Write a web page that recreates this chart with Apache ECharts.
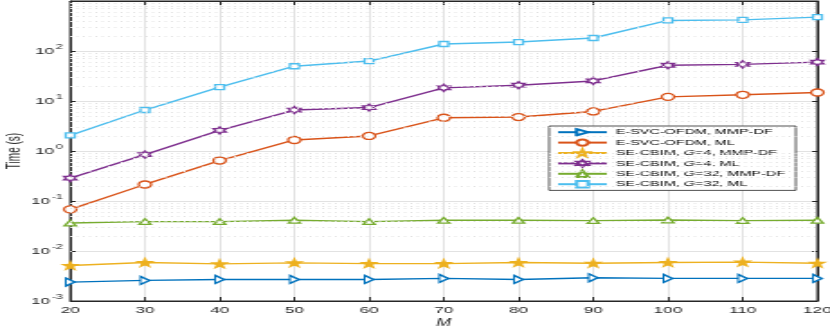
<!DOCTYPE html>
<html lang="en">
<head>
    <meta charset="UTF-8">
    <title>Time vs M</title>
    <script type="text/javascript" src="https://cdn.jsdelivr.net/npm/echarts@6/dist/echarts.min.js"></script>
    <style>
        body { margin: 0; overflow: hidden; background: #fff; }
        /* the reference is stretched sideways, so draw narrow and stretch */
        #chart { width: 461px; height: 327px; transform: scaleX(1.8004); transform-origin: 0 0; }
    </style>
</head>
<body>
    <div id="chart"></div>
    <script>
        var mValues = [20, 30, 40, 50, 60, 70, 80, 90, 100, 110, 120];
        var esvcMmp = [0.00239, 0.00258, 0.0027, 0.0027, 0.0027, 0.00283, 0.0027, 0.00291, 0.00283, 0.00283, 0.00283];
        var esvcMl = [0.068, 0.214, 0.644, 1.66, 2.0, 4.62, 4.78, 6.18, 12.1, 13.3, 14.8];
        var g4Mmp = [0.00514, 0.0059, 0.00553, 0.0058, 0.0056, 0.0056, 0.0059, 0.0057, 0.0059, 0.006, 0.0057];
        var g4Ml = [0.286, 0.847, 2.58, 6.59, 7.4, 18.3, 20.7, 25.2, 51.9, 54, 60];
        var g32Mmp = [0.0363, 0.0387, 0.0387, 0.0411, 0.0387, 0.0411, 0.0411, 0.0405, 0.0417, 0.0405, 0.0411];
        var g32Ml = [2.06, 6.6, 18.9, 49.6, 63, 138, 151, 182, 408, 420, 476];
        var yTicks = [0.001, 0.01, 0.1, 1, 10, 100];
        var seriesNames = ['E-SVC-OFDM, MMP-DF', 'E-SVC-OFDM, ML', 'SE-CBIM, G=4, MMP-DF',
            'SE-CBIM, G=4, ML', 'SE-CBIM, G=32, MMP-DF', 'SE-CBIM, G=32, ML'];

        var font = "'Liberation Sans', Arial, sans-serif";
        var axisColor = '#262626';
        var star = 'path://M50,0 L61,35 L98,35 L68,57 L79,91 L50,70 L21,91 L32,57 L2,35 L39,35 Z';
        var hexagram = 'path://M50,0 L63,25 L93,25 L78,50 L93,75 L63,75 L50,100 L37,75 L7,75 L22,50 L7,25 L37,25 Z';

        function pairs(vals) {
            var out = [];
            for (var i = 0; i < mValues.length; i++) out.push([mValues[i], vals[i]]);
            return out;
        }

        // dotted minor grid at 2..9 of each decade
        var minorLines = [];
        for (var k = 0; k < yTicks.length; k++)
            for (var m = 2; m <= 9; m++) minorLines.push({ yAxis: m * yTicks[k] });

        function lineSeries(name, vals, color, symbol, size, rotate, filled) {
            return {
                name: name,
                type: 'line',
                data: pairs(vals),
                symbol: symbol,
                symbolSize: size,
                symbolRotate: rotate,
                showAllSymbol: true,
                z: 3,
                lineStyle: { color: color, width: 1.4 },
                itemStyle: { color: filled ? color : '#fff', borderColor: color, borderWidth: 1.3 },
                emphasis: { disabled: true },
                animation: false
            };
        }

        var chart = echarts.init(document.getElementById('chart'));
        var option = {
            animation: false,
            grid: { left: 39, right: 7, top: 1, bottom: 26, outerBoundsMode: 'none',
                show: true, borderColor: axisColor, borderWidth: 1 },
            legend: {
                data: seriesNames,
                orient: 'vertical',
                left: 305,
                top: 126,
                backgroundColor: '#fff',
                borderColor: axisColor,
                borderWidth: 0.8,
                padding: [2, 6, 2, 4],
                itemWidth: 27,
                itemHeight: 8,
                itemGap: 2,
                textStyle: { fontFamily: font, fontSize: 8, color: '#000',
                    rich: { i: { fontFamily: font, fontSize: 8, fontStyle: 'italic', color: '#000' } } },
                formatter: function (name) { return name.replace('G=', '{i|G}='); }
            },
            xAxis: [{
                type: 'value',
                min: 20, max: 120, interval: 10,
                name: 'M',
                nameLocation: 'middle',
                nameGap: 17,
                nameMoveOverlap: false,
                nameTextStyle: { fontFamily: font, fontSize: 10, fontStyle: 'italic', color: axisColor },
                axisLine: { lineStyle: { color: axisColor } },
                axisTick: { inside: true, length: 4, lineStyle: { color: axisColor } },
                axisLabel: { fontFamily: font, fontSize: 9.5, color: axisColor, margin: 4 },
                splitLine: { lineStyle: { color: '#e2e2e2' } }
            }, {
                type: 'value', position: 'top',
                min: 20, max: 120, interval: 10,
                axisLine: { show: true, lineStyle: { color: axisColor } },
                axisTick: { inside: true, length: 4, lineStyle: { color: axisColor } },
                axisLabel: { show: false },
                splitLine: { show: false }
            }],
            yAxis: [{
                type: 'log',
                logBase: 10,
                min: 0.001, max: 1000,
                splitNumber: 6,
                name: 'Time (s)',
                nameLocation: 'middle',
                nameGap: 26,
                nameMoveOverlap: false,
                nameTextStyle: { fontFamily: font, fontSize: 10, color: axisColor },
                axisLine: { show: true, lineStyle: { color: axisColor } },
                axisTick: { inside: true, length: 3, lineStyle: { color: axisColor } },
                axisLabel: {
                    margin: 4,
                    formatter: function (v) {
                        if (v > 500) return '';
                        var e = Math.round(Math.log(v) / Math.LN10);
                        return '{b|10}{s|' + e + '}';
                    },
                    rich: {
                        b: { fontFamily: font, fontSize: 9.5, color: axisColor },
                        s: { fontFamily: font, fontSize: 7, color: axisColor, padding: [0, 0, 7, 1] }
                    }
                },
                splitLine: { lineStyle: { color: '#e2e2e2' } }
            }, {
                type: 'log',
                logBase: 10,
                position: 'right',
                min: 0.001, max: 1000,
                splitNumber: 6,
                axisLine: { show: true, lineStyle: { color: axisColor } },
                axisTick: { inside: true, length: 3, lineStyle: { color: axisColor } },
                axisLabel: { show: false },
                splitLine: { show: false }
            }],
            series: [
                {
                    name: '',
                    type: 'line',
                    data: [],
                    z: 1,
                    silent: true,
                    markLine: {
                        silent: true,
                        symbol: 'none',
                        label: { show: false },
                        lineStyle: { color: '#e2e2e2', type: [1, 2.5], width: 1 },
                        emphasis: { disabled: true },
                        animation: false,
                        data: minorLines
                    }
                },
                lineSeries(seriesNames[0], esvcMmp, '#0072BD', 'triangle', [8, 5], -90, false),
                lineSeries(seriesNames[1], esvcMl, '#D95319', 'circle', 7, 0, false),
                lineSeries(seriesNames[2], g4Mmp, '#EDB120', star, 7.5, 0, true),
                lineSeries(seriesNames[3], g4Ml, '#7E2F8E', hexagram, 7, 0, false),
                lineSeries(seriesNames[4], g32Mmp, '#77AC30', 'triangle', [6.5, 5.7], 0, false),
                lineSeries(seriesNames[5], g32Ml, '#4DBEEE', 'rect', 5, 0, false)
            ]
        };
        chart.setOption(option);
    </script>
</body>
</html>
